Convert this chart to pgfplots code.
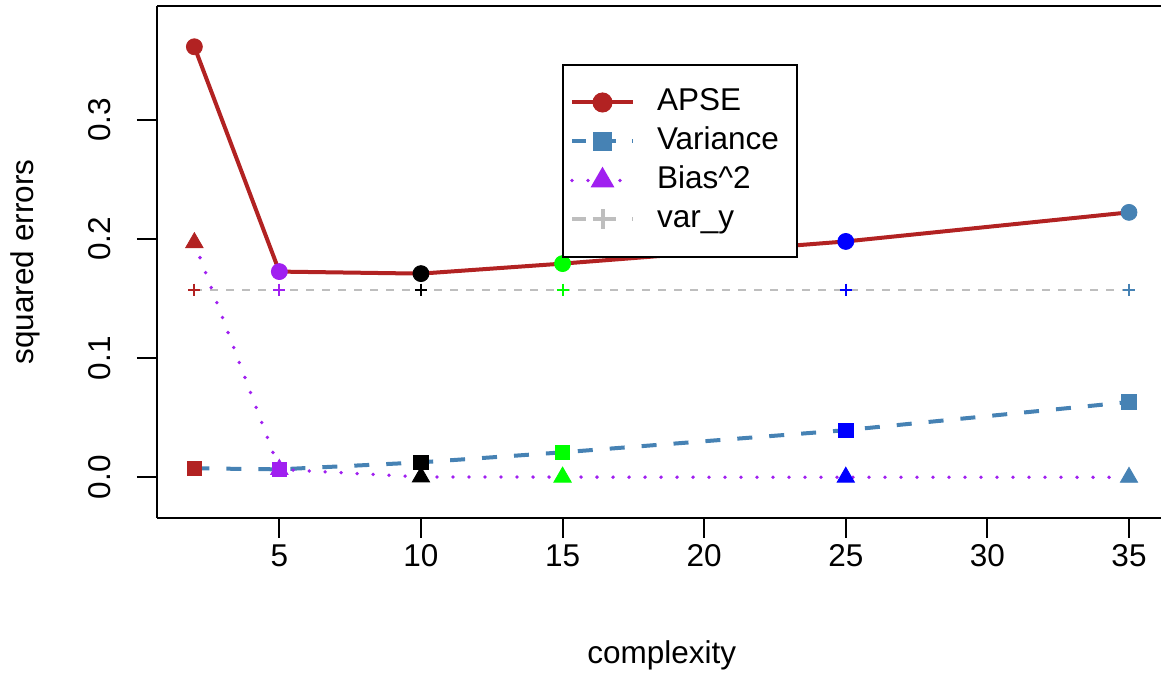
\documentclass[border=0pt]{standalone}
\usepackage{fontspec}
\setmainfont{Liberation Sans}
\usepackage{pgfplots}
\usepackage{pgfplotstable}
\pgfplotsset{compat=1.18}
\definecolor{firebrick}{HTML}{B22222}
\definecolor{steelblue}{HTML}{4682B4}
\definecolor{rpurple}{HTML}{A020F0}
\definecolor{rgreen}{HTML}{00FF00}
\definecolor{rblue}{HTML}{0000FF}
\definecolor{rgray}{HTML}{BEBEBE}
\pgfplotstableread{
x apse var bias vary cls
2 0.3614 0.0076 0.1970 0.1575 a
5 0.1727 0.0067 0.0067 0.1575 b
10 0.1710 0.0126 0.0003 0.1575 c
15 0.1794 0.0210 0.0002 0.1575 d
25 0.1980 0.0396 0.0001 0.1575 e
35 0.2224 0.0632 0.0000 0.1575 f
}\data
\pgfplotsset{
  pcols/.style={scatter, only marks, scatter src=explicit symbolic,
    scatter/classes={
      a={draw=firebrick,fill=firebrick},
      b={draw=rpurple,fill=rpurple},
      c={draw=black,fill=black},
      d={draw=rgreen,fill=rgreen},
      e={draw=rblue,fill=rblue},
      f={draw=steelblue,fill=steelblue}}},
}
\begin{document}
\begin{tikzpicture}
\begin{axis}[
  scale only axis,
  width=502bp, height=255.5bp,
  xmin=0.68, xmax=36.13,
  ymin=-0.0337, ymax=0.3952,
  axis x line*=box, axis y line*=left,
  axis line style={-, line width=1bp, black},
  xtick={5,10,15,20,25,30,35},
  ytick={0,0.1,0.2,0.3},
  xtick pos=left, ytick pos=left,
  tick align=outside,
  major tick length=10bp,
  every tick/.style={black, line width=1bp},
  font=\fontsize{15.75bp}{19bp}\selectfont,
  /pgf/number format/assume math mode=true,
  yticklabel style={xshift=-13.4bp, rotate=90, anchor=base},
  yticklabel={\pgfmathprintnumber[fixed,fixed zerofill,precision=1]{\tick}},
  xlabel={complexity},
  ylabel={squared errors},
  xlabel style={at={(axis description cs:0.5027,0)}, anchor=center, yshift=-68.75bp},
  ylabel style={at={(axis description cs:0,0.5)}, anchor=center, rotate=0, yshift=66bp},
  legend style={at={(axis description cs:0.4034,0.8875)}, anchor=north west,
    draw=black, line width=1bp, inner xsep=3.5bp, inner ysep=9bp,
    font=\fontsize{15.75bp}{19bp}\selectfont, row sep=0pt,
    nodes={inner xsep=0pt, inner ysep=2.25bp, text height=11.5bp, text depth=3.5bp}},
  legend cell align=left,
  legend image code/.code={\draw[#1, mark repeat=2, mark phase=2] plot coordinates {(0bp,0bp) (15.25bp,0bp) (30.5bp,0bp)}; \path (41.5bp,0bp);},
]
\addlegendimage{firebrick, line width=2bp, mark=*, mark size=4bp, mark options={solid}}
\addlegendentry{APSE}
\addlegendimage{steelblue, line width=2bp, dash pattern=on 7bp off 8bp, mark=square*, mark size=3.6bp, mark options={solid}}
\addlegendentry{Variance\rule{5.5bp}{0pt}}
\addlegendimage{rpurple, line width=1.9bp, line cap=round, dash pattern=on 0bp off 8bp, mark=triangle*, mark size=5bp, mark options={solid}}
\addlegendentry{Bias\^{}2}
\addlegendimage{rgray, line width=2bp, dash pattern=on 7bp off 8bp, mark=+, mark size=5bp, mark options={solid}}
\addlegendentry{var\_y}
% var_y
\addplot[rgray, line width=1bp, dash pattern=on 4bp off 4bp, forget plot] table[x=x,y=vary]{\data};
\addplot[pcols, mark=+, mark size=3bp, line width=1bp, forget plot] table[x=x,y=vary,meta=cls]{\data};
% APSE
\addplot[firebrick, line width=2bp, forget plot] table[x=x,y=apse]{\data};
\addplot[pcols, mark=*, mark size=4bp, forget plot] table[x=x,y=apse,meta=cls]{\data};
% Variance
\addplot[steelblue, line width=2bp, dash pattern=on 7.5bp off 8.5bp, forget plot] table[x=x,y=var]{\data};
\addplot[pcols, mark=square*, mark size=3.6bp, forget plot] table[x=x,y=var,meta=cls]{\data};
% Bias
\addplot[rpurple, line width=1.9bp, line cap=round, dash pattern=on 0bp off 8bp, forget plot] table[x=x,y=bias]{\data};
\addplot[pcols, mark=triangle*, mark size=5bp, forget plot] table[x=x,y=bias,meta=cls]{\data};
\end{axis}
\pgfresetboundingbox
\path[use as bounding box] ([xshift=-78.5bp,yshift=-77.75bp]current axis.south west) rectangle ([yshift=3.25bp]current axis.north east);
\end{tikzpicture}
\end{document}
